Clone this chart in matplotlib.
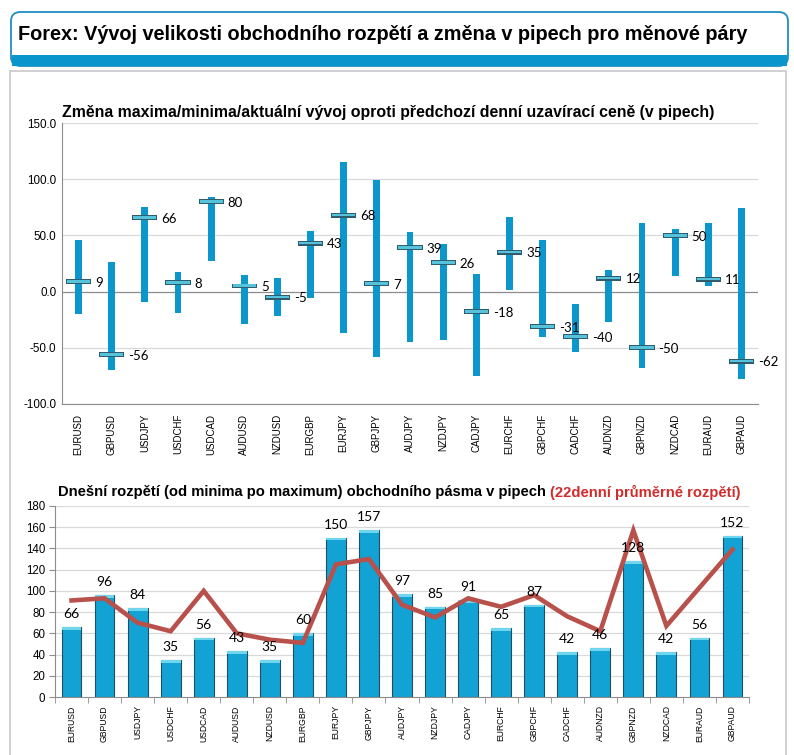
import matplotlib
matplotlib.use("Agg")
import matplotlib.pyplot as plt
from matplotlib.patches import FancyBboxPatch, Rectangle
import numpy as np

pairs = ["EURUSD", "GBPUSD", "USDJPY", "USDCHF", "USDCAD", "AUDUSD", "NZDUSD",
         "EURGBP", "EURJPY", "GBPJPY", "AUDJPY", "NZDJPY", "CADJPY", "EURCHF",
         "GBPCHF", "CADCHF", "AUDNZD", "GBPNZD", "NZDCAD", "EURAUD", "GBPAUD"]
high_chg = [46, 26, 75, 17, 84, 15, 12, 54, 115, 99, 53, 42, 16, 66, 46, -11, 19, 61, 56, 61, 74]
low_chg = [-20, -70, -9, -19, 27, -29, -22, -6, -37, -58, -45, -43, -75, 1, -40, -54, -27, -68, 14, 5, -78]
current_chg = [9, -56, 66, 8, 80, 5, -5, 43, 68, 7, 39, 26, -18, 35, -31, -40, 12, -50, 50, 11, -62]
today_range = [66, 96, 84, 35, 56, 43, 35, 60, 150, 157, 97, 85, 91, 65, 87, 42, 46, 128, 42, 56, 152]
avg22_range = [91, 93, 70, 62, 100, 60, 54, 51, 125, 130, 87, 75, 93, 85, 96, 76, 62, 157, 67, 103, 139]
top_yticks = [-100, -50, 0, 50, 100, 150]
bot_yticks = [0, 20, 40, 60, 80, 100, 120, 140, 160, 180]

W, H = 794, 755
fig = plt.figure(figsize=(W / 100, H / 100), dpi=100)
fig.patch.set_facecolor("white")

def fx(px):
    return px / W

def fy(py):
    return 1 - py / H

# Header box
hdr = FancyBboxPatch((fx(11), fy(66)), fx(777), fy(12) - fy(66),
                     boxstyle="round,pad=0,rounding_size=0.012",
                     transform=fig.transFigure, facecolor="white",
                     edgecolor="#1c8fc4", linewidth=1.3, zorder=1)
fig.patches.append(hdr)
band = Rectangle((fx(12), fy(66)), fx(775), fy(55) - fy(66),
                 transform=fig.transFigure, facecolor="#0a95cc",
                 edgecolor="none", zorder=2)
fig.patches.append(band)
fig.text(fx(18), fy(34), "Forex: Vývoj velikosti obchodního rozpětí a změna v pipech pro měnové páry",
         fontsize=14.3, fontweight="bold", family="Liberation Sans", va="center", ha="left", zorder=5)

# Panel
panel = Rectangle((fx(10), fy(760)), fx(776), fy(71) - fy(760),
                  transform=fig.transFigure, facecolor="white",
                  edgecolor="#c8c8c8", linewidth=1.2, zorder=-1)
fig.patches.append(panel)

x = np.arange(len(pairs))
bar_blue = "#0b96cc"

# ---------- Top chart ----------
ax1 = fig.add_axes([fx(62), fy(404), fx(696), fy(123) - fy(404)])
ax1.set_zorder(3)
ax1.patch.set_alpha(0)
ax1.set_xlim(-0.5, len(pairs) - 0.5)
ax1.set_ylim(-100, 150)
for t in top_yticks:
    ax1.axhline(t, color="#d9d9d9" if t != 0 else "#8c8c8c", linewidth=0.9, zorder=0)
hi = np.array(high_chg)
lo = np.array(low_chg)
ax1.bar(x, hi - lo, bottom=lo, width=0.21, color=bar_blue, zorder=2)
cur = np.array(current_chg)
ax1.bar(x, 4.4, bottom=cur - 2.2, width=0.76, color="#2f5d6e", zorder=3)
ax1.bar(x, 2.4, bottom=cur - 1.0, width=0.70, color="#55c3dc", zorder=4)
for xi, c in zip(x, cur):
    ax1.text(xi + 0.5, c - 1, f"{c}", fontsize=9.5, family="Lato", va="center", ha="left", zorder=5)
ax1.set_yticks(top_yticks)
ax1.set_yticklabels([f"{t:.1f}" for t in top_yticks], fontsize=8.4, family="Liberation Sans")
ax1.set_xticks(x)
ax1.set_xticklabels(pairs, rotation=90, fontsize=7, family="Liberation Sans")
ax1.tick_params(axis="both", length=0, pad=4)
ax1.tick_params(axis="x", pad=7)
for s in ["top", "right"]:
    ax1.spines[s].set_visible(False)
ax1.spines["left"].set_color("#8c8c8c")
ax1.spines["bottom"].set_color("#8c8c8c")
fig.text(fx(62), fy(113), "Změna maxima/minima/aktuální vývoj oproti předchozí denní uzavírací ceně (v pipech)",
         fontsize=11.4, fontweight="bold", family="Liberation Sans", va="center", ha="left", zorder=5)

# ---------- Bottom chart ----------
ax2 = fig.add_axes([fx(55), fy(697), fx(694), fy(506) - fy(697)])
ax2.set_zorder(3)
ax2.patch.set_alpha(0)
ax2.set_xlim(-0.5, len(pairs) - 0.5)
ax2.set_ylim(0, 180)
for t in bot_yticks[1:]:
    ax2.axhline(t, color="#d9d9d9", linewidth=0.9, zorder=0)
ax2.bar(x, today_range, width=0.6, color="#12a2d4", edgecolor="#1f4f60", linewidth=0.8, zorder=2)
ax2.bar(x, [2.5] * len(x), bottom=np.array(today_range) - 2.5, width=0.6,
        color="#6fd6ee", edgecolor="none", zorder=3)
ax2.plot(x, avg22_range, color="#b8504b", linewidth=3.3, zorder=4, solid_joinstyle="miter")
for xi, v in zip(x, today_range):
    ax2.annotate(f"{v}", (xi, v), xytext=(0, 5), textcoords="offset points",
                 ha="center", va="bottom", fontsize=10, family="Lato", zorder=5)
ax2.set_yticks(bot_yticks)
ax2.set_yticklabels([str(t) for t in bot_yticks], fontsize=8.3, family="Liberation Sans")
ax2.set_xticks(x)
ax2.set_xticklabels(pairs, rotation=90, fontsize=6.2, family="Liberation Sans")
ax2.set_xticks(np.arange(-0.5, len(pairs), 1), minor=True)
ax2.tick_params(axis="x", which="major", length=0, pad=6)
ax2.tick_params(axis="x", which="minor", length=4, color="#8c8c8c", direction="out")
ax2.tick_params(axis="y", length=4, color="#8c8c8c", pad=3)
for s in ["top", "right"]:
    ax2.spines[s].set_visible(False)
ax2.spines["left"].set_color("#8c8c8c")
ax2.spines["bottom"].set_color("#8c8c8c")

t1 = fig.text(fx(58), fy(492), "Dnešní rozpětí (od minima po maximum) obchodního pásma v pipech ",
              fontsize=10.6, fontweight="bold", family="Liberation Sans", va="center", ha="left", zorder=5)
fig.canvas.draw()
bb = t1.get_window_extent(renderer=fig.canvas.get_renderer())
fig.text(bb.x1 / W, fy(492), "(22denní průměrné rozpětí)", fontsize=10.6, fontweight="bold",
         family="Liberation Sans", color="#d02c2c", va="center", ha="left", zorder=5)

fig.savefig("out.png", dpi=100)
